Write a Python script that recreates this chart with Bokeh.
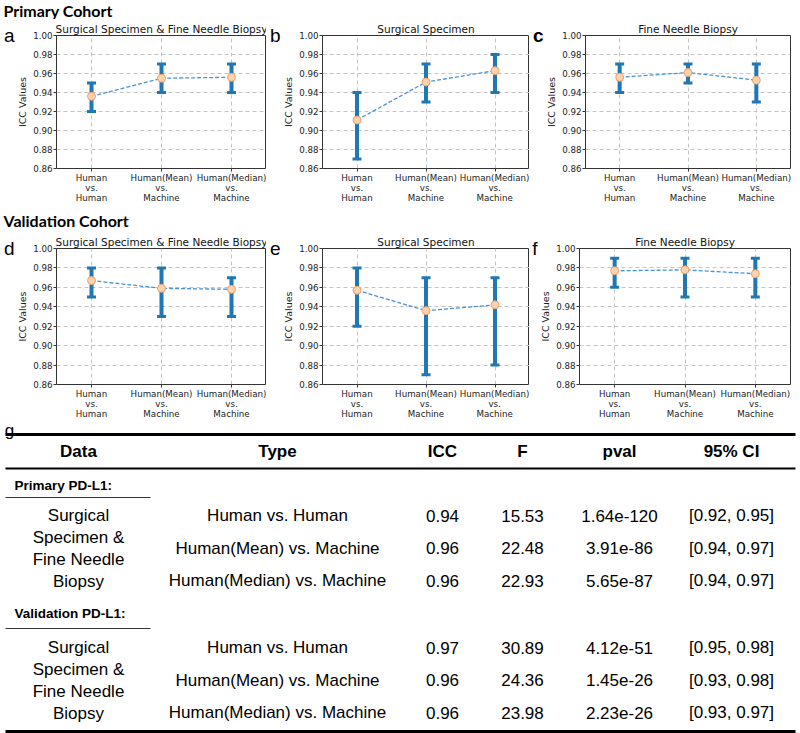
from bokeh.plotting import figure
from bokeh.layouts import column, row
from bokeh.models import (Range1d, FactorRange, FixedTicker, LinearAxis,
                          NumeralTickFormatter, ColumnDataSource)
from bokeh.core.properties import value
from bokeh.embed import file_html
from bokeh.resources import INLINE

# ---------------- data ----------------
comparisons = ["Human\nvs.\nHuman", "Human(Mean)\nvs.\nMachine", "Human(Median)\nvs.\nMachine"]
y_ticks = [0.86, 0.88, 0.90, 0.92, 0.94, 0.96, 0.98, 1.00]

# Primary cohort
p_sf_icc = [0.936, 0.955, 0.956]
p_sf_lo = [0.92, 0.94, 0.94]
p_sf_hi = [0.95, 0.97, 0.97]

p_ss_icc = [0.911, 0.951, 0.963]
p_ss_lo = [0.87, 0.93, 0.94]
p_ss_hi = [0.94, 0.97, 0.98]

p_fnb_icc = [0.956, 0.961, 0.953]
p_fnb_lo = [0.94, 0.95, 0.93]
p_fnb_hi = [0.97, 0.97, 0.97]

# Validation cohort
v_sf_icc = [0.967, 0.959, 0.958]
v_sf_lo = [0.95, 0.93, 0.93]
v_sf_hi = [0.98, 0.98, 0.97]

v_ss_icc = [0.957, 0.936, 0.942]
v_ss_lo = [0.92, 0.87, 0.88]
v_ss_hi = [0.98, 0.97, 0.97]

v_fnb_icc = [0.977, 0.978, 0.974]
v_fnb_lo = [0.96, 0.95, 0.95]
v_fnb_hi = [0.99, 0.99, 0.99]

# Table
headers = ["Data", "Type", "ICC", "F", "pval", "95% CI"]
data_label_lines = ["Surgical", "Specimen &", "Fine Needle", "Biopsy"]
table_types = ["Human vs. Human", "Human(Mean) vs. Machine", "Human(Median) vs. Machine"]
primary_icc = ["0.94", "0.96", "0.96"]
primary_f = ["15.53", "22.48", "22.93"]
primary_pval = ["1.64e-120", "3.91e-86", "5.65e-87"]
primary_ci = ["[0.92, 0.95]", "[0.94, 0.97]", "[0.94, 0.97]"]
validation_icc = ["0.97", "0.96", "0.96"]
validation_f = ["30.89", "24.36", "23.98"]
validation_pval = ["4.12e-51", "1.45e-26", "2.23e-26"]
validation_ci = ["[0.95, 0.98]", "[0.93, 0.98]", "[0.93, 0.97]"]

# ---------------- styling / layout ----------------
BLUE = "#1f77b4"
LINE_BLUE = "#4a93d2"
CHART_FONT = "DejaVu Sans"
HEAD_FONT = "Lato"
TAB_FONT = "Liberation Sans"
TOTAL_W = 796


def blank(width, height):
    f = figure(width=width, height=height, x_range=Range1d(0, width),
               y_range=Range1d(height, 0), output_backend="svg",
               toolbar_location=None, min_border=0)
    f.axis.visible = False
    f.grid.visible = False
    f.outline_line_color = None
    return f


def panel(title, letter, icc, lo, hi, left, frame_w, right, top, frame_h, bottom, letter_bold=False):
    p = figure(x_range=FactorRange(factors=comparisons), y_range=Range1d(0.86, 1.00),
               width=left + frame_w + right, height=top + frame_h + bottom,
               min_border_left=left, min_border_right=right, min_border_top=top,
               min_border_bottom=bottom, output_backend="svg", toolbar_location=None,
               title=title)
    p.title.align = "center"
    p.title.text_font = CHART_FONT
    p.title.text_font_size = "10.5px"
    p.title.text_font_style = "normal"
    p.title.text_color = "#111111"
    p.title.standoff = 2

    p.outline_line_color = "#333333"
    p.outline_line_width = 1
    p.outline_line_alpha = 1
    p.background_fill_color = "white"
    p.border_fill_color = "white"

    for ax in (p.xaxis[0], p.yaxis[0]):
        ax.axis_line_color = None
        ax.major_tick_out = 3
        ax.major_tick_in = 0
        ax.minor_tick_line_color = None
        ax.major_tick_line_color = "#333333"
        ax.major_label_text_font = CHART_FONT
        ax.major_label_text_font_size = "8.7px"
        ax.major_label_text_color = "#222222"
        ax.major_label_standoff = 1
    p.xaxis.major_label_text_line_height = 1.0

    yax = p.yaxis[0]
    yax.ticker = FixedTicker(ticks=y_ticks)
    yax.formatter = NumeralTickFormatter(format="0.00")
    yax.axis_label = "ICC Values"
    yax.axis_label_text_font = CHART_FONT
    yax.axis_label_text_font_size = "9.5px"
    yax.axis_label_text_font_style = "normal"
    yax.axis_label_text_color = "#222222"
    yax.axis_label_standoff = 2

    # panel letter: the single label of an outer left axis, level with the frame top
    lax = LinearAxis(ticker=FixedTicker(ticks=[1.0]), major_label_overrides={1.0: letter},
                     axis_line_color=None, major_tick_line_color=None,
                     minor_tick_line_color=None, major_tick_out=0, major_tick_in=0,
                     minor_tick_out=0, minor_tick_in=0, major_label_standoff=0,
                     major_label_text_font=TAB_FONT, major_label_text_font_size="19px",
                     major_label_text_font_style="bold" if letter_bold else "normal",
                     major_label_text_color="black")
    p.add_layout(lax, "left")

    p.grid.grid_line_dash = "4 3"
    p.grid.grid_line_color = "#c4c4c4"
    p.grid.grid_line_width = 1

    src = ColumnDataSource(dict(x=comparisons, icc=icc, lo=lo, hi=hi))
    p.segment(x0="x", y0="lo", x1="x", y1="hi", line_width=4, line_color=BLUE, source=src)
    p.scatter(x="x", y="hi", marker="dash", size=9, line_width=3, line_color=BLUE, source=src)
    p.scatter(x="x", y="lo", marker="dash", size=9, line_width=3, line_color=BLUE, source=src)
    p.line(x="x", y="icc", line_dash="4 2", line_width=1.3, line_color=LINE_BLUE, source=src)
    p.scatter(x="x", y="icc", marker="circle", size=8, fill_color="#fdd3ad",
              line_color="#f0a06c", line_width=1, source=src)
    return p


def heading(text, height, text_y):
    h = blank(TOTAL_W, height)
    h.text(x=[3], y=[text_y], text=[text], text_font=value(HEAD_FONT), text_font_size="16px",
           text_font_style="bold", text_align="left", text_baseline="middle", text_color="black")
    return h


def chart_row(titles, letters, series, top, frame_h, bottom):
    lefts = [55, 52, 50]
    frames = [211, 211, 211]
    rights = [0, 0, 2]
    items = []
    for i in range(3):
        icc, lo, hi = series[i]
        items.append(panel(titles[i], letters[i], icc, lo, hi, lefts[i], frames[i], rights[i],
                           top, frame_h, bottom, letter_bold=(letters[i] == "c")))
    return row(*items)


titles = ["Surgical Specimen & Fine Needle Biopsy", "Surgical Specimen", "Fine Needle Biopsy"]

h1 = heading("Primary Cohort", 19, 9.5)
r1 = chart_row(titles, ["a", "b", "c"],
               [(p_sf_icc, p_sf_lo, p_sf_hi), (p_ss_icc, p_ss_lo, p_ss_hi),
                (p_fnb_icc, p_fnb_lo, p_fnb_hi)], 14, 135, 37)
h2 = heading("Validation Cohort", 25, 15)
r2 = chart_row(titles, ["d", "e", "f"],
               [(v_sf_icc, v_sf_lo, v_sf_hi), (v_ss_icc, v_ss_lo, v_ss_hi),
                (v_fnb_icc, v_fnb_lo, v_fnb_hi)], 18, 136, 37)

# ---------------- table ----------------
T_TOP, T_BOTTOM = 421, 733
t = blank(TOTAL_W, T_BOTTOM - T_TOP)
t.y_range = Range1d(T_BOTTOM, T_TOP)

col_x = [78, 277, 442, 522, 619, 731]
header_y = 451
row_gap = 32.5
data_line_gap = 22
sections = [
    ("Primary PD-L1:", 485, 497, 515, primary_icc, primary_f, primary_pval, primary_ci),
    ("Validation PD-L1:", 613, 628, 647, validation_icc, validation_f, validation_pval, validation_ci),
]

t.text(x=[9], y=[430], text=["g"], text_font=value(TAB_FONT), text_font_size="17px",
       text_align="center", text_baseline="alphabetic", text_color="black")

t.segment(x0=[5, 5, 5], y0=[434, 468, 731], x1=[795, 795, 795], y1=[434, 468, 731],
          line_width=[3, 2, 3], line_color="black")

t.text(x=col_x, y=[header_y] * len(headers), text=headers, text_font=value(TAB_FONT),
       text_font_size="17px", text_font_style="bold", text_align="center",
       text_baseline="middle", text_color="black")

for name, name_y, rule_y, first_y, icc_s, f_s, p_s, ci_s in sections:
    t.text(x=[14], y=[name_y], text=[name], text_font=value(TAB_FONT), text_font_size="13.5px",
           text_font_style="bold", text_align="left", text_baseline="middle", text_color="black")
    t.segment(x0=[5], y0=[rule_y], x1=[150], y1=[rule_y], line_width=1.2, line_color="#333333")
    ys = [first_y + i * row_gap for i in range(len(table_types))]
    t.text(x=[col_x[0]] * len(data_label_lines),
           y=[first_y + i * data_line_gap for i in range(len(data_label_lines))],
           text=data_label_lines, text_font=value(TAB_FONT), text_font_size="17px",
           text_align="center", text_baseline="middle", text_color="black")
    for ci, col in enumerate([table_types, icc_s, f_s, p_s, ci_s]):
        t.text(x=[col_x[ci + 1]] * len(col), y=ys, text=col, text_font=value(TAB_FONT),
               text_font_size="17px", text_align="center", text_baseline="middle",
               text_color="black")

layout = column(h1, r1, h2, r2, t)
open("out.html", "w").write(file_html(layout, INLINE))
